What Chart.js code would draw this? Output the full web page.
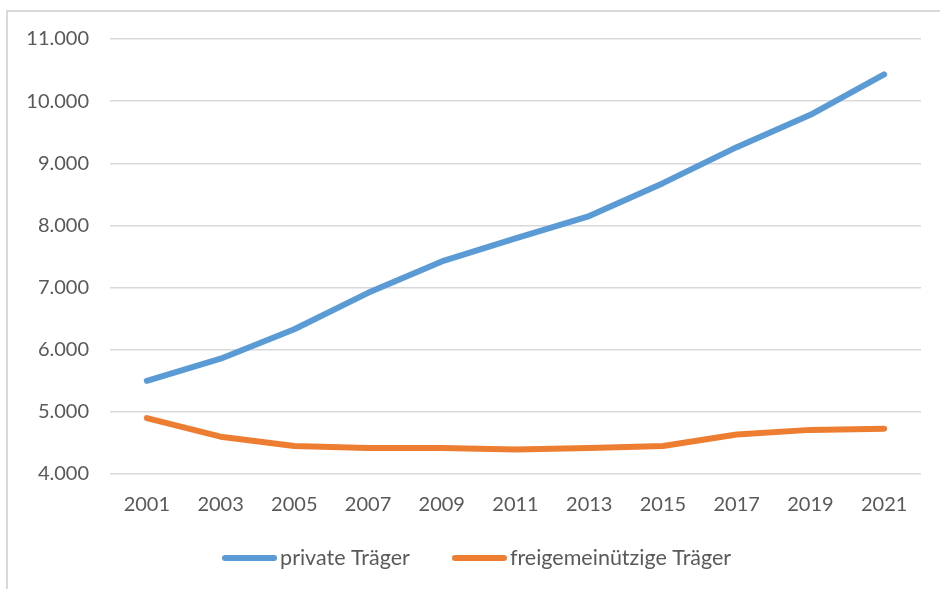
<!DOCTYPE html>
<html>
<head>
<meta charset="utf-8">
<script src="https://cdn.jsdelivr.net/npm/chart.js@4/dist/chart.umd.min.js"></script>
<style>
  html, body { margin: 0; padding: 0; background: #fff; }
  #wrap { position: relative; width: 940px; height: 589px; overflow: hidden; }
  #frame { position: absolute; left: 6px; top: 10px; width: 1000px; height: 1000px; border: 2px solid #d9d9d9; box-sizing: border-box; }
  #chart { position: absolute; left: 0; top: 0; }
</style>
</head>
<body>
<div id="wrap">
  <div id="frame"></div>
  <canvas id="chart" width="940" height="589"></canvas>
</div>
<script>
const years = ["2001", "2003", "2005", "2007", "2009", "2011", "2013", "2015", "2017", "2019", "2021"];
const privateTraeger = [5500, 5855, 6330, 6915, 7420, 7790, 8150, 8680, 9260, 9780, 10430];
const freigemeinnuetzig = [4900, 4600, 4450, 4420, 4420, 4395, 4420, 4450, 4635, 4710, 4730];
const seriesNames = ["private Träger", "freigemeinützige Träger"];
const seriesColors = ["#5b9bd5", "#ed7d31"];

const textColor = "#595959";
const gridColor = "#d9d9d9";

function formatDe(v) {
  return String(v).replace(/\B(?=(\d{3})+(?!\d))/g, ".");
}

// little line swatch for the legend
function legendLine(color) {
  const c = document.createElement("canvas");
  c.width = 55;
  c.height = 8;
  const g = c.getContext("2d");
  g.strokeStyle = color;
  g.lineWidth = 6;
  g.lineCap = "round";
  g.beginPath();
  g.moveTo(3, 4);
  g.lineTo(52, 4);
  g.stroke();
  return c;
}

// nudge the legend a little so it sits where the original one does
const legendNudge = {
  id: "legendNudge",
  afterLayout(chart) {
    const lg = chart.legend;
    if (!lg) return;
    lg.left += 20;
    lg.right += 20;
    lg.top -= 18;
  },
};

const canvas = document.getElementById("chart");
new Chart(canvas.getContext("2d"), {
  type: "line",
  data: {
    labels: years,
    datasets: [
      {
        label: seriesNames[0],
        data: privateTraeger,
        borderColor: seriesColors[0],
        backgroundColor: seriesColors[0],
        borderWidth: 6,
        borderCapStyle: "round",
        borderJoinStyle: "round",
        pointRadius: 0,
        pointStyle: legendLine(seriesColors[0]),
        tension: 0,
      },
      {
        label: seriesNames[1],
        data: freigemeinnuetzig,
        borderColor: seriesColors[1],
        backgroundColor: seriesColors[1],
        borderWidth: 6,
        borderCapStyle: "round",
        borderJoinStyle: "round",
        pointRadius: 0,
        pointStyle: legendLine(seriesColors[1]),
        tension: 0,
      },
    ],
  },
  options: {
    responsive: false,
    animation: false,
    layout: { padding: { top: 39, right: 19, bottom: 0, left: 0 } },
    scales: {
      x: {
        offset: true,
        grid: { display: false, drawTicks: false },
        border: { display: false },
        ticks: { color: textColor, padding: 19, font: { family: "Lato", size: 20 }, maxRotation: 0 },
        afterFit: (scale) => { scale.height = 41.5; },
      },
      y: {
        min: 4000,
        max: 11000,
        grid: { color: gridColor, lineWidth: 1.5, drawTicks: false },
        border: { display: false },
        ticks: {
          stepSize: 1000,
          color: textColor,
          padding: 21,
          font: { family: "Lato", size: 20 },
          callback: (v) => formatDe(v),
        },
        afterFit: (scale) => { scale.width = 110; },
      },
    },
    plugins: {
      legend: {
        position: "bottom",
        maxHeight: 73.5,
        labels: {
          color: textColor,
          font: { family: "Lato", size: 21.5 },
          usePointStyle: true,
          pointStyleWidth: 39.5,
          boxHeight: 6,
          padding: 49.75,
        },
      },
      tooltip: { enabled: false },
    },
  },
  plugins: [legendNudge],
});
</script>
</body>
</html>
